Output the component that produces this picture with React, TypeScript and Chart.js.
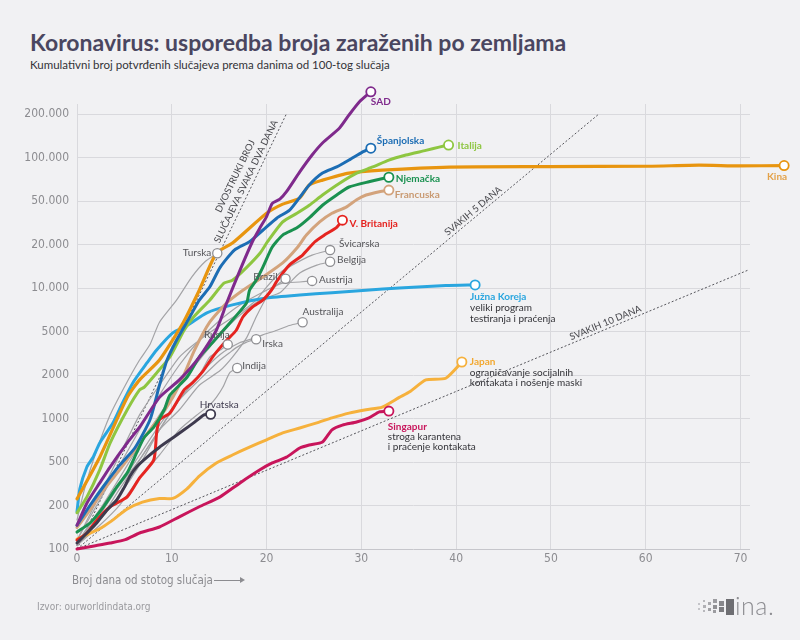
import React, { useEffect, useRef } from "react";
import { Chart, registerables } from "chart.js";

Chart.register(...registerables);

// ---- axis ticks (evenly spaced 1-2-5 ladder, as on the original) ----
const Y_TICK_VALUES = [100, 200, 500, 1000, 2000, 5000, 10000, 20000, 50000, 100000, 200000];
const Y_TICK_LABELS = ["100", "200", "500", "1000", "2000", "5000", "10.000", "20.000", "50.000", "100.000", "200.000"];

// ---- data: days since 100th case, cumulative confirmed cases ----
const sadDays = [0, 1.05, 2.4, 3.5, 5.3, 6.6, 8.7, 10.8, 12.9, 14.7, 15.8, 17.2, 18.5, 19.3, 20, 20.6, 21.4, 22.1, 23.5, 24.8, 25.9, 27.7, 28.7, 29.8, 31];
const sadCases = [146, 211, 322, 452, 678, 870, 1400, 1850, 2920, 5100, 7900, 13300, 21200, 28400, 36000, 47500, 51500, 58000, 79500, 104000, 126000, 160000, 197000, 243000, 285000];

const spainDays = [0, 1.4, 2.9, 4.5, 6.1, 7.7, 8.7, 9.5, 10.5, 11.9, 12.9, 14, 15.1, 16.6, 18.2, 19.6, 21.1, 22.4, 23.5, 24.5, 25.9, 27.4, 28.7, 30.1, 31];
const spainCases = [146, 202, 308, 468, 625, 980, 1700, 2740, 4160, 6300, 8240, 10150, 13900, 18300, 21200, 27000, 35000, 41000, 53000, 64600, 78000, 86000, 96000, 109000, 116000];

const italyDays = [0, 1.05, 2.4, 3.5, 5.3, 6.6, 7.1, 8.4, 9.8, 11.3, 12.3, 14, 15.5, 16.4, 17.9, 19.3, 20.1, 21.7, 23.2, 24.5, 25.9, 27.7, 29.5, 31.2, 32.9, 34.7, 36.8, 38.2, 39.2];
const italyCases = [178, 240, 424, 678, 1150, 1580, 1650, 2090, 2920, 5100, 6300, 8240, 10800, 11300, 13900, 17400, 21200, 32200, 38600, 45700, 55000, 66400, 78000, 86000, 96000, 104000, 112000, 118000, 122000];

const germanyDays = [0, 1.4, 2.8, 4.2, 5.3, 6.3, 7.1, 8.1, 9.2, 9.8, 11.6, 12.9, 14.3, 16.4, 17.9, 18.2, 18.9, 19.6, 20.6, 21.7, 23.2, 24.5, 25.9, 27.4, 28.7, 30.8, 32.9];
const germanyCases = [131, 152, 196, 296, 398, 580, 742, 870, 1150, 1450, 1930, 2920, 3960, 6000, 7900, 9650, 11300, 13900, 19200, 24400, 28400, 35000, 45700, 55000, 62500, 68000, 73000];

const franceDays = [0, 1.4, 2.9, 4.5, 6.1, 7.7, 9.3, 10.8, 12.4, 14, 15.8, 17.5, 19.6, 21.7, 23.2, 24.2, 25.6, 26.9, 28.4, 29.5, 30.5, 31.9, 32.9];
const franceCases = [141, 187, 284, 424, 607, 835, 1150, 1700, 3380, 5800, 7900, 9650, 11900, 14900, 18900, 24400, 32200, 38600, 44000, 51000, 55000, 58000, 59500];

const ukDays = [0, 1.05, 2.1, 3.5, 5.3, 6.6, 8.1, 8.4, 8.7, 9.8, 11.3, 12.2, 13.3, 14.3, 15.1, 15.8, 16.8, 17.5, 18.5, 19.6, 20.5, 21.1, 22.4, 23.8, 25.1, 26.1, 27.4, 28];
const ukCases = [115, 129, 159, 196, 240, 358, 517, 795, 980, 1090, 1580, 1770, 2170, 2920, 3560, 4160, 5100, 6300, 7370, 8240, 9650, 11200, 14400, 16900, 21200, 24400, 28700, 33400];

const chinaDays = [0, 2.4, 5.3, 6.6, 8.7, 11.2, 12.9, 14.7, 16.4, 20, 21.7, 23.5, 24.5, 25.9, 28.7, 32.2, 39.3, 49.8, 60.3, 65.6, 69.8, 74.6];
const chinaCases = [230, 540, 1400, 1850, 2740, 5750, 9650, 17400, 20600, 38600, 46800, 52500, 64600, 69700, 78000, 81800, 85900, 86500, 87000, 88500, 87500, 88000];

const koreaDays = [0, 0.3, 1.05, 1.7, 2.4, 3.8, 4.8, 5.9, 7.4, 8.4, 10.1, 11.6, 13.7, 16.4, 20, 23.5, 26.9, 30.5, 34, 38.9, 42];
const koreaCases = [181, 284, 452, 540, 678, 933, 1280, 1770, 2590, 3380, 4850, 5500, 6740, 7640, 8530, 8950, 9270, 9650, 10000, 10400, 10500];

const japanDays = [0, 1.4, 2.4, 3.5, 5.3, 6.9, 8.7, 10.1, 11.6, 12.9, 14.7, 16.4, 18.2, 20, 21.7, 23.5, 25.3, 26.9, 28.7, 30.5, 32.2, 34, 35.1, 36.8, 38.9, 40.6];
const japanCases = [117, 129, 138, 154, 189, 215, 232, 232, 284, 372, 490, 559, 633, 712, 795, 860, 933, 1010, 1090, 1150, 1200, 1400, 1530, 1850, 1900, 2630];

const singaporeDays = [0, 1.8, 3.5, 5.1, 6.6, 8.7, 10.8, 12.9, 15.1, 17.2, 19.3, 20.6, 22.1, 23.5, 24.5, 25.9, 26.9, 28, 29.5, 30.8, 31.9, 32.9];
const singaporeCases = [100, 105, 110, 116, 129, 142, 167, 196, 240, 322, 424, 490, 540, 625, 656, 688, 835, 900, 946, 1010, 1110, 1125];

const croatiaDays = [0, 1.05, 2.1, 3.2, 4.2, 4.9, 5.6, 6.3, 7.4, 8.7, 10.2, 11.3, 12.3, 13.4, 14.1];
const croatiaCases = [110, 129, 152, 187, 225, 284, 372, 452, 540, 633, 742, 835, 933, 1060, 1070];

const turkeyDays = [0, 0.8, 1.9, 3.5, 5.1, 6.6, 7.7, 8.7, 10.5, 12.1, 13.5, 14.8];
const turkeyCases = [159, 284, 559, 1060, 1700, 2740, 3800, 5800, 8240, 11900, 15200, 17400];

const swissDays = [0, 2.4, 4.5, 6.6, 8.7, 10.8, 12.9, 15.1, 17.2, 18.9, 20, 21.4, 22.7, 24.8, 26.7];
const swissCases = [115, 250, 559, 1060, 1700, 2920, 4160, 5500, 6740, 8240, 10150, 12700, 14400, 16900, 18300];

const belgiumDays = [0, 2.4, 4.5, 6.6, 8.7, 10.8, 12.9, 15.1, 17.2, 19.3, 21.4, 22.4, 23.5, 25.3, 26.7];
const belgiumCases = [106, 187, 358, 656, 1060, 1700, 2740, 4660, 6500, 8240, 9270, 10800, 12700, 14400, 15200];

const austriaDays = [0, 2.4, 4.5, 6.6, 8.7, 10.8, 12.9, 15.1, 17.2, 20, 21.7, 23.5, 24.8];
const austriaCases = [115, 225, 468, 835, 1450, 2470, 4160, 6000, 7640, 9650, 10800, 11000, 11200];

const brazilDays = [0, 2.4, 4.5, 6.6, 8.7, 10.8, 12.9, 15.1, 16.4, 17.9, 18.9, 20, 21.1, 22];
const brazilCases = [110, 187, 308, 517, 835, 1150, 1700, 2200, 2920, 4400, 6300, 8600, 10500, 11600];

const australiaDays = [0, 2.4, 4.5, 6.6, 8.7, 10.8, 12.9, 15.1, 17.2, 18.5, 19.6, 21.1, 22.4, 23.8];
const australiaCases = [106, 159, 250, 468, 835, 1350, 2000, 3080, 3960, 4300, 4660, 5100, 5500, 5800];

const irelandDays = [0, 2.4, 4.5, 6.6, 8.7, 10.8, 12.9, 15.1, 16.1, 16.8, 17.9, 18.9];
const irelandCases = [106, 172, 308, 559, 900, 1350, 1850, 2740, 3200, 3560, 4000, 4250];

const russiaDays = [0, 2.4, 4.5, 6.6, 8.7, 10.8, 12.9, 14, 15.1, 15.9];
const russiaCases = [106, 159, 284, 517, 835, 1350, 2000, 2920, 3380, 3800];

const indiaDays = [0, 2.4, 4.5, 6.6, 8.7, 10.8, 12.9, 14, 14.7, 15.4, 16.1, 16.9];
const indiaCases = [106, 146, 202, 358, 559, 835, 1090, 1240, 1400, 1650, 2090, 2320];

// reference doubling lines (start, end)
const double2Days = [0, 22.1];
const double2Cases = [100, 201000];
const double5Days = [0, 55.1];
const double5Cases = [100, 201000];
const double10Days = [0, 70.8];
const double10Cases = [100, 13300];

// ---- scale mapping: value -> position on the evenly spaced 1-2-5 ladder ----
function toPos(v: number): number {
  const T = Y_TICK_VALUES;
  let i = 0;
  while (i < T.length - 2 && v > T[i + 1]) i++;
  return i + Math.log(v / T[i]) / Math.log(T[i + 1] / T[i]);
}

const LABEL_FONT = "Lato, 'Open Sans', sans-serif";
const TICK_FONT = "'Liberation Sans Narrow', 'DejaVu Sans Condensed', Lato, sans-serif";
const GREY = "#a3a3a6";
const GREY_TXT = "#555559";
const DARK_TXT = "#333338";

type LabelLine = { text: string; color: string; bold?: boolean };
type EndLabel = { lines: LabelLine[]; dx: number; dy: number; align: CanvasTextAlign; lh?: number };

type Series = {
  name: string;
  days: number[];
  cases: number[];
  color: string;
  width: number;
  label: EndLabel;
};

const SERIES: Series[] = [
  { name: "Hrvatska", days: croatiaDays, cases: croatiaCases, color: "#3e3a4e", width: 3,
    label: { lines: [{ text: "Hrvatska", color: "#3e3a4e" }], dx: -11, dy: -9, align: "left" } },
  { name: "SAD", days: sadDays, cases: sadCases, color: "#7f2a8c", width: 3,
    label: { lines: [{ text: "SAD", color: "#7f2a8c", bold: true }], dx: 0, dy: 10, align: "left" } },
  { name: "Španjolska", days: spainDays, cases: spainCases, color: "#1c6db4", width: 3,
    label: { lines: [{ text: "Španjolska", color: "#1c6db4", bold: true }], dx: 6, dy: -7, align: "left" } },
  { name: "Italija", days: italyDays, cases: italyCases, color: "#8ec641", width: 3,
    label: { lines: [{ text: "Italija", color: "#8ec641", bold: true }], dx: 9, dy: 1, align: "left" } },
  { name: "Njemačka", days: germanyDays, cases: germanyCases, color: "#1a9150", width: 3,
    label: { lines: [{ text: "Njemačka", color: "#1a9150", bold: true }], dx: 7, dy: 2, align: "left" } },
  { name: "Francuska", days: franceDays, cases: franceCases, color: "#d3a37c", width: 3,
    label: { lines: [{ text: "Francuska", color: "#c99a72", bold: true }], dx: 6, dy: 5, align: "left" } },
  { name: "V. Britanija", days: ukDays, cases: ukCases, color: "#e52420", width: 3,
    label: { lines: [{ text: "V. Britanija", color: "#e52420", bold: true }], dx: 7, dy: 4, align: "left" } },
  { name: "Kina", days: chinaDays, cases: chinaCases, color: "#e8950f", width: 3.2,
    label: { lines: [{ text: "Kina", color: "#e3a24a", bold: true }], dx: 3, dy: 11, align: "right" } },
  { name: "Južna Koreja", days: koreaDays, cases: koreaCases, color: "#2aa6df", width: 3,
    label: { lines: [
      { text: "Južna Koreja", color: "#2aa6df", bold: true },
      { text: "veliki program", color: DARK_TXT },
      { text: "testiranja i praćenja", color: DARK_TXT },
    ], dx: -5, dy: 12, align: "left", lh: 11 } },
  { name: "Japan", days: japanDays, cases: japanCases, color: "#f6b13c", width: 3,
    label: { lines: [
      { text: "Japan", color: "#f2a830", bold: true },
      { text: "ograničavanje socijalnih", color: DARK_TXT },
      { text: "kontakata i nošenje maski", color: DARK_TXT },
    ], dx: 8, dy: 0, align: "left", lh: 10.5 } },
  { name: "Singapur", days: singaporeDays, cases: singaporeCases, color: "#c8155b", width: 3,
    label: { lines: [
      { text: "Singapur", color: "#c8155b", bold: true },
      { text: "stroga karantena", color: DARK_TXT },
      { text: "i praćenje kontakata", color: DARK_TXT },
    ], dx: -1, dy: 16, align: "left", lh: 10 } },
  { name: "Turska", days: turkeyDays, cases: turkeyCases, color: GREY, width: 1.2,
    label: { lines: [{ text: "Turska", color: GREY_TXT }], dx: -6, dy: 0, align: "right" } },
  { name: "Švicarska", days: swissDays, cases: swissCases, color: GREY, width: 1.2,
    label: { lines: [{ text: "Švicarska", color: GREY_TXT }], dx: 9, dy: -6, align: "left" } },
  { name: "Belgija", days: belgiumDays, cases: belgiumCases, color: GREY, width: 1.2,
    label: { lines: [{ text: "Belgija", color: GREY_TXT }], dx: 7, dy: -2, align: "left" } },
  { name: "Austrija", days: austriaDays, cases: austriaCases, color: GREY, width: 1.2,
    label: { lines: [{ text: "Austrija", color: GREY_TXT }], dx: 7, dy: -1, align: "left" } },
  { name: "Brazil", days: brazilDays, cases: brazilCases, color: GREY, width: 1.2,
    label: { lines: [{ text: "Brazil", color: GREY_TXT }], dx: -8, dy: -2, align: "right" } },
  { name: "Australija", days: australiaDays, cases: australiaCases, color: GREY, width: 1.2,
    label: { lines: [{ text: "Australija", color: GREY_TXT }], dx: 0, dy: -10, align: "left" } },
  { name: "Irska", days: irelandDays, cases: irelandCases, color: GREY, width: 1.2,
    label: { lines: [{ text: "Irska", color: GREY_TXT }], dx: 6, dy: 5, align: "left" } },
  { name: "Rusija", days: russiaDays, cases: russiaCases, color: GREY, width: 1.2,
    label: { lines: [{ text: "Rusija", color: GREY_TXT }], dx: 2, dy: -10, align: "right" } },
  { name: "Indija", days: indiaDays, cases: indiaCases, color: GREY, width: 1.2,
    label: { lines: [{ text: "Indija", color: GREY_TXT }], dx: 5, dy: -2, align: "left" } },
];

type RefLine = { name: string; days: number[]; cases: number[]; atDay: number; texts: string[]; gap: number };
const REF_LINES: RefLine[] = [
  { name: "2 dana", days: double2Days, cases: double2Cases, atDay: 18.5,
    texts: ["SLUČAJEVA SVAKA DVA DANA", "DVOSTRUKI BROJ"], gap: 4 },
  { name: "5 dana", days: double5Days, cases: double5Cases, atDay: 42.2, texts: ["SVAKIH 5 DANA"], gap: 3 },
  { name: "10 dana", days: double10Days, cases: double10Cases, atDay: 56, texts: ["SVAKIH 10 DANA"], gap: 3 },
];

const labelsPlugin = {
  id: "endLabels",
  afterDatasetsDraw(chart: any) {
    const ctx: CanvasRenderingContext2D = chart.ctx;
    const xScale = chart.scales.x;
    chart.data.datasets.forEach((ds: any, i: number) => {
      const meta = chart.getDatasetMeta(i);
      const pts = meta.data;
      if (!pts || !pts.length) return;
      if (ds.refLine) {
        const r: RefLine = ds.refLine;
        const p0 = pts[0], p1 = pts[pts.length - 1];
        const ang = Math.atan2(p1.y - p0.y, p1.x - p0.x);
        const t = (xScale.getPixelForValue(r.atDay) - p0.x) / (p1.x - p0.x);
        const px = p0.x + t * (p1.x - p0.x);
        const py = p0.y + t * (p1.y - p0.y);
        ctx.save();
        ctx.translate(px, py);
        ctx.rotate(ang);
        ctx.font = `9.5px ${LABEL_FONT}`;
        ctx.fillStyle = "#47474c";
        ctx.textAlign = "center";
        ctx.textBaseline = "alphabetic";
        r.texts.forEach((tx, k) => ctx.fillText(tx, 0, -r.gap - k * 12));
        ctx.restore();
        return;
      }
      const lab: EndLabel | undefined = ds.endLabel;
      if (!lab) return;
      const last = pts[pts.length - 1];
      ctx.save();
      ctx.beginPath();
      ctx.arc(last.x, last.y, 4.6, 0, Math.PI * 2);
      ctx.fillStyle = "#ffffff";
      ctx.fill();
      ctx.lineWidth = ds.borderWidth > 2 ? 1.8 : 1.3;
      ctx.strokeStyle = ds.borderColor === GREY ? "#8e8e92" : ds.borderColor;
      ctx.stroke();
      ctx.textAlign = lab.align;
      ctx.textBaseline = "middle";
      lab.lines.forEach((ln, k) => {
        ctx.font = `${ln.bold ? "bold " : ""}10px ${LABEL_FONT}`;
        ctx.fillStyle = ln.color;
        ctx.fillText(ln.text, last.x + lab.dx, last.y + lab.dy + k * (lab.lh || 11));
      });
      ctx.restore();
    });
  },
};

function App() {
  const canvasRef = useRef<HTMLCanvasElement | null>(null);

  useEffect(() => {
    if (!canvasRef.current) return;
    const seriesSets = SERIES.map((s) => ({
      label: s.name,
      data: s.days.map((d, i) => ({ x: d, y: toPos(s.cases[i]) })),
      borderColor: s.color,
      backgroundColor: s.color,
      borderWidth: s.width,
      pointRadius: 0,
      tension: 0.2,
      capBezierPoints: false,
      borderJoinStyle: "round" as const,
      borderCapStyle: "round" as const,
      clip: false as any,
      endLabel: s.label,
    }));
    const refSets = REF_LINES.map((r) => ({
      label: r.name,
      data: r.days.map((d, i) => ({ x: d, y: toPos(r.cases[i]) })),
      borderColor: "#55555b",
      borderWidth: 1,
      borderDash: [2, 2],
      pointRadius: 0,
      tension: 0,
      clip: false as any,
      refLine: r,
    }));

    const chart = new Chart(canvasRef.current, {
      type: "line",
      data: { datasets: [...seriesSets, ...refSets] as any },
      options: {
        responsive: false,
        animation: false,
        events: [],
        layout: { padding: { top: 104, right: 50, bottom: 0, left: 0 } },
        plugins: { legend: { display: false }, tooltip: { enabled: false }, title: { display: false } },
        scales: {
          x: {
            type: "linear",
            min: 0,
            max: 71,
            ticks: {
              stepSize: 10,
              includeBounds: false,
              padding: 3,
              color: "#8c8c90",
              font: { family: TICK_FONT, size: 12 },
              maxRotation: 0,
            },
            grid: {
              drawTicks: false,
              color: "#d9d9dd",
              lineWidth: 1,
            },
            border: { display: false },
            afterFit: (s: any) => { s.height = 91; },
          },
          y: {
            type: "linear",
            min: 0,
            max: 10.23,
            ticks: {
              stepSize: 1,
              includeBounds: false,
              padding: 8,
              color: "#8c8c90",
              font: { family: TICK_FONT, size: 12 },
              callback: (v: any) => Y_TICK_LABELS[Math.round(Number(v))] ?? "",
            },
            grid: {
              drawTicks: false,
              color: (c: any) => (c.tick && c.tick.value === 0 ? "#c6c6cb" : "#d9d9dd"),
              lineWidth: 1,
            },
            border: { display: false },
            afterFit: (s: any) => { s.width = 77; },
          },
        },
      },
      plugins: [labelsPlugin],
    });
    return () => chart.destroy();
  }, []);

  const sq = (l: number, t: number, s: number, c: string) => (
    <div key={`${l}-${t}`} style={{ position: "absolute", left: l, top: t, width: s, height: s, background: c }} />
  );

  return (
    <div style={{ position: "absolute", left: 0, top: 0, width: 800, height: 640, background: "#f1f1f3", overflow: "hidden" }}>
      <div style={{ position: "absolute", left: 30, top: 30, fontFamily: LABEL_FONT, fontSize: 23, fontWeight: 700, lineHeight: "24px", color: "#4a4660", whiteSpace: "nowrap" }}>
        Koronavirus: usporedba broja zaraženih po zemljama
      </div>
      <div style={{ position: "absolute", left: 30, top: 58, fontFamily: LABEL_FONT, fontSize: 11.5, lineHeight: "14px", color: "#333338", whiteSpace: "nowrap" }}>
        Kumulativni broj potvrđenih slučajeva prema danima od 100-tog slučaja
      </div>
      <canvas ref={canvasRef} width={800} height={640} style={{ position: "absolute", left: 0, top: 0, width: 800, height: 640 }} />
      <div style={{ position: "absolute", left: 72, top: 573, fontFamily: TICK_FONT, fontSize: 11.5, lineHeight: "14px", color: "#8c8c90", whiteSpace: "nowrap" }}>
        Broj dana od stotog slučaja
      </div>
      <div style={{ position: "absolute", left: 214, top: 580, width: 28, height: 1, background: "#8c8c90" }} />
      <div style={{ position: "absolute", left: 240, top: 577, width: 0, height: 0, borderTop: "3.5px solid transparent", borderBottom: "3.5px solid transparent", borderLeft: "5px solid #8c8c90" }} />
      <div style={{ position: "absolute", left: 37, top: 600, fontFamily: TICK_FONT, fontSize: 10, lineHeight: "13px", color: "#9a9a9e", whiteSpace: "nowrap" }}>
        Izvor: ourworldindata.org
      </div>
      {[
        sq(698, 603, 2, "#c4c4c8"), sq(698, 608, 2, "#c4c4c8"),
        sq(703, 600, 2, "#b8b8bc"), sq(703, 605, 3, "#b0b0b4"), sq(703, 610, 2, "#b8b8bc"),
        sq(708, 602, 3, "#a8a8ac"), sq(708, 608, 3, "#a0a0a4"),
        sq(713, 599, 4, "#9c9ca0"), sq(713, 605, 4, "#909094"), sq(713, 610, 3, "#9c9ca0"),
        sq(719, 601, 5, "#88888c"), sq(719, 607, 5, "#7c7c80"),
        sq(726, 599, 8, "#6e6e72"), sq(726, 607, 8, "#6e6e72"),
      ]}
      <div style={{ position: "absolute", left: 735, top: 592, fontFamily: "Lato, sans-serif", fontSize: 25, fontWeight: 300, lineHeight: "26px", color: "#8e8e92", letterSpacing: 0.5 }}>
        ina.
      </div>
    </div>
  );
}

export default App;
